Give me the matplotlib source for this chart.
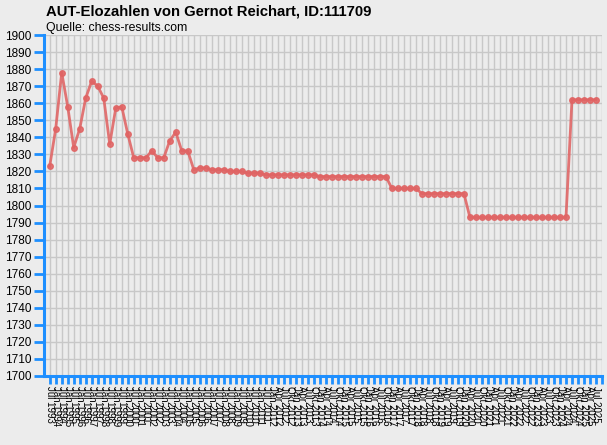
import matplotlib
matplotlib.use("Agg")
import matplotlib.pyplot as plt

title = "AUT-Elozahlen von Gernot Reichart, ID:111709"
subtitle = "Quelle: chess-results.com"

dates = [
    "Jul 1993", "Jan 1994", "Jul 1994", "Jan 1995", "Jul 1995", "Jan 1996", "Jul 1996",
    "Jan 1997", "Jul 1997", "Jan 1998", "Jul 1998", "Jan 1999", "Jul 1999", "Jan 2000",
    "Jul 2000", "Jan 2001", "Jul 2001", "Jan 2002", "Jul 2002", "Jan 2003", "Jul 2003",
    "Jan 2004", "Jul 2004", "Jan 2005", "Jul 2005", "Jan 2006", "Jul 2006", "Jan 2007",
    "Jul 2007", "Jan 2008", "Jul 2008", "Jan 2009", "Jul 2009", "Jan 2010", "Jul 2010",
    "Jan 2011", "Jul 2011",
    "Jan 2012", "Apr 2012", "Jul 2012", "Okt 2012",
    "Jan 2013", "Apr 2013", "Jul 2013", "Okt 2013",
    "Jan 2014", "Apr 2014", "Jul 2014", "Okt 2014",
    "Jan 2015", "Apr 2015", "Jul 2015", "Okt 2015",
    "Jan 2016", "Apr 2016", "Jul 2016", "Okt 2016",
    "Jan 2017", "Apr 2017", "Jul 2017", "Okt 2017",
    "Jan 2018", "Apr 2018", "Jul 2018", "Okt 2018",
    "Jan 2019", "Apr 2019", "Jul 2019", "Okt 2019",
    "Jan 2020", "Apr 2020", "Jul 2020", "Okt 2020",
    "Jan 2021", "Apr 2021", "Jul 2021", "Okt 2021",
    "Jan 2022", "Apr 2022", "Jul 2022", "Okt 2022",
    "Jan 2023", "Apr 2023", "Jul 2023", "Okt 2023",
    "Jan 2024", "Apr 2024", "Jul 2024", "Okt 2024",
    "Jan 2025", "Apr 2025", "Jul 2025",
]

elo = [
    1823, 1845, 1878, 1858, 1834, 1845, 1863, 1873, 1870, 1863,
    1836, 1857, 1858, 1842, 1828, 1828, 1828, 1832, 1828, 1828,
    1838, 1843, 1832, 1832, 1821, 1822, 1822,
    1821, 1821, 1821,
    1820, 1820, 1820,
    1819, 1819, 1819,
    1818, 1818, 1818, 1818, 1818, 1818, 1818, 1818, 1818,
    1817, 1817, 1817, 1817, 1817, 1817, 1817, 1817, 1817, 1817, 1817, 1817,
    1810, 1810, 1810, 1810, 1810,
    1807, 1807, 1807, 1807, 1807, 1807, 1807, 1807,
    1793, 1793, 1793, 1793, 1793, 1793, 1793, 1793, 1793, 1793,
    1793, 1793, 1793, 1793, 1793, 1793, 1793,
    1862, 1862, 1862, 1862, 1862,
]

y_min, y_max, y_step = 1700, 1900, 10

BG = "#ececec"
GRID = "#c8c8c8"
BLUE = "#1e8fff"
LINE = "#e06464"

plt.rcParams["font.family"] = ["Liberation Sans", "DejaVu Sans"]

fig = plt.figure(figsize=(6.07, 4.45), dpi=100, facecolor=BG)
ax = fig.add_axes([44 / 607, (445 - 376) / 445, (602 - 44) / 607, 341 / 445])
ax.set_facecolor(BG)

x = list(range(len(elo)))
ax.plot(x, elo, color=LINE, lw=2.0, marker="o", ms=4.0,
        mfc=LINE, mec=LINE, alpha=0.88, zorder=3, clip_on=False)

ax.set_xlim(-0.95, len(elo))
ax.set_ylim(y_min, y_max)

ax.set_xticks(list(range(len(elo) + 1)))
ax.set_xticklabels(dates + [""], rotation=-90, fontsize=7, va="top", ha="center")
ax.set_yticks(list(range(y_min, y_max + 1, y_step)))
ax.tick_params(axis="y", labelsize=8.5, length=7, width=2, color=BLUE, pad=2)
ax.tick_params(axis="x", length=6, width=2, color=BLUE, pad=1.5)

ax.grid(True, color=GRID, lw=1.0, zorder=0)
ax.set_axisbelow(True)
for s in ["top", "right"]:
    ax.spines[s].set_visible(False)
for s in ["left", "bottom"]:
    ax.spines[s].set_color(BLUE)
    ax.spines[s].set_linewidth(2.2)

fig.text(46 / 607, 1 - 4 / 445, title, fontsize=10.7, fontweight="bold",
         ha="left", va="top")
fig.text(46 / 607, 1 - 21.5 / 445, subtitle, fontsize=8.8, ha="left", va="top")

fig.savefig("out.png", dpi=100, facecolor=BG)
